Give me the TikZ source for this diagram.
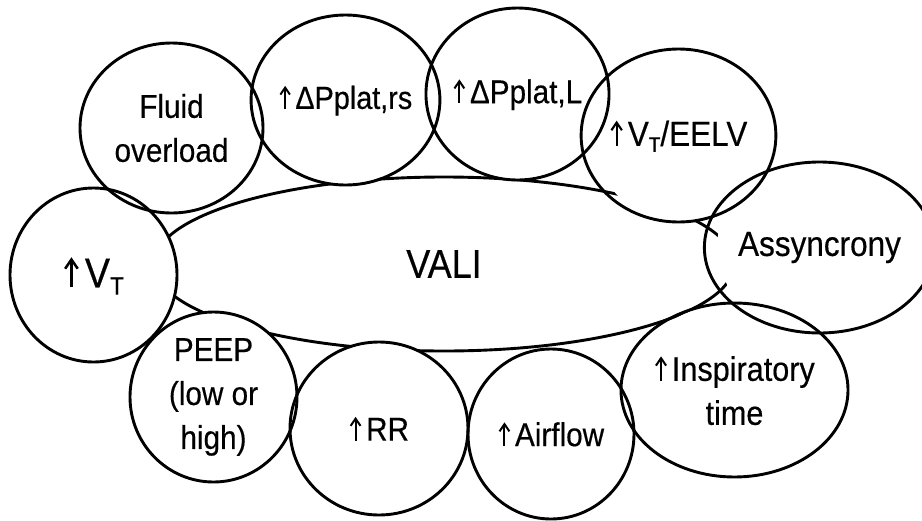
\documentclass[tikz,border=0pt]{standalone}
\usepackage{fontspec}
\usepackage{graphicx}
\setmainfont{Liberation Sans}[FakeStretch=0.9,FakeBold=0.4]
\usetikzlibrary{shapes.geometric,arrows.meta}
% small lowered T used as the tidal-volume subscript
\newcommand{\subT}{\raisebox{-0.17em}{\scalebox{0.6}{T}}}
% thin upward arrow, cap-height tall, standing on the baseline
\newcommand{\incr}{\tikz[baseline=0pt,x=1em,y=1em]{%
  \path (0,0) rectangle (0.52,0.72);
  \draw[line width=0.06em,-{Straight Barb[length=0.22em,width=0.3em,line width=0.06em]}]
    (0.2,0) -- (0.2,0.72);}}
\begin{document}
\begin{tikzpicture}[x=1pt,y=-1pt,
  rim/.style={ellipse, line width=2.9pt, inner sep=0pt, align=center},
  cause/.style={rim, draw, font=\fontsize{33}{44}\selectfont},
  cover/.style={rim, fill=white},
  sz/.style 2 args={minimum width=#1pt, minimum height=#2pt}]
\useasboundingbox (0,0) rectangle (922,520);

% central ellipse
\node[rim, draw, sz={580}{174}, font=\fontsize{40}{48}\selectfont] (vali) at (444,264) {VALI};

% white discs hiding the ellipse behind the surrounding factors
\node[cover, sz={183}{170}] (fluid-bg) at (171.5,128) {};
\node[cover, sz={165}{170}] (prs-bg)   at (345.5,100) {};
\node[cover, sz={165}{172}] (pl-bg)    at (517.5,94) {};
\node[cover, sz={169}{173}] (eelv-bg)  at (678.5,135.5) {};
\node[cover, sz={205}{171}] (asyn-bg)  at (819.5,247.5) {};
\node[cover, sz={167}{174}] (vt-bg)    at (93.5,275) {};
\node[cover, sz={167}{170}] (peep-bg)  at (213.5,397) {};
\node[cover, sz={178}{173}] (rr-bg)    at (379,428.5) {};
\node[cover, sz={166}{170}] (air-bg)   at (551,434) {};
\node[cover, sz={207}{174}] (insp-bg)  at (734.5,390) {};

% factor outlines and labels
\node[cause, sz={183}{170}] (fluid) at (171.5,128) {Fluid\\overload};
\node[cause, sz={165}{170}, font=\fontsize{32}{40}\selectfont] (prs) at (345.5,100) {\incr ΔPplat,rs};
\node[cause, sz={165}{172}, font=\fontsize{33}{40}\selectfont] (pl) at (517.5,94) {\incr ΔPplat,L};
\node[cause, sz={169}{173}, font=\fontsize{35}{42}\selectfont] (eelv) at (678.5,135.5) {\incr V\subT/EELV};
\node[cause, sz={205}{171}, font=\fontsize{35}{42}\selectfont] (asyn) at (819.5,247.5) {Assyncrony};
\node[cause, sz={167}{174}, font=\fontsize{42}{50}\selectfont] (vt) at (93.5,275) {\incr V\subT};
\node[cause, sz={167}{170}] (peep) at (213.5,397) {PEEP\\(low or\\high)};
\node[cause, sz={178}{173}] (rr) at (379,428.5) {\incr RR};
\node[cause, sz={166}{170}] (air) at (551,434) {\incr Airflow};
\node[cause, sz={207}{174}, font=\fontsize{34}{44}\selectfont] (insp) at (734.5,390) {\incr Inspiratory\\time};
\end{tikzpicture}
\end{document}
